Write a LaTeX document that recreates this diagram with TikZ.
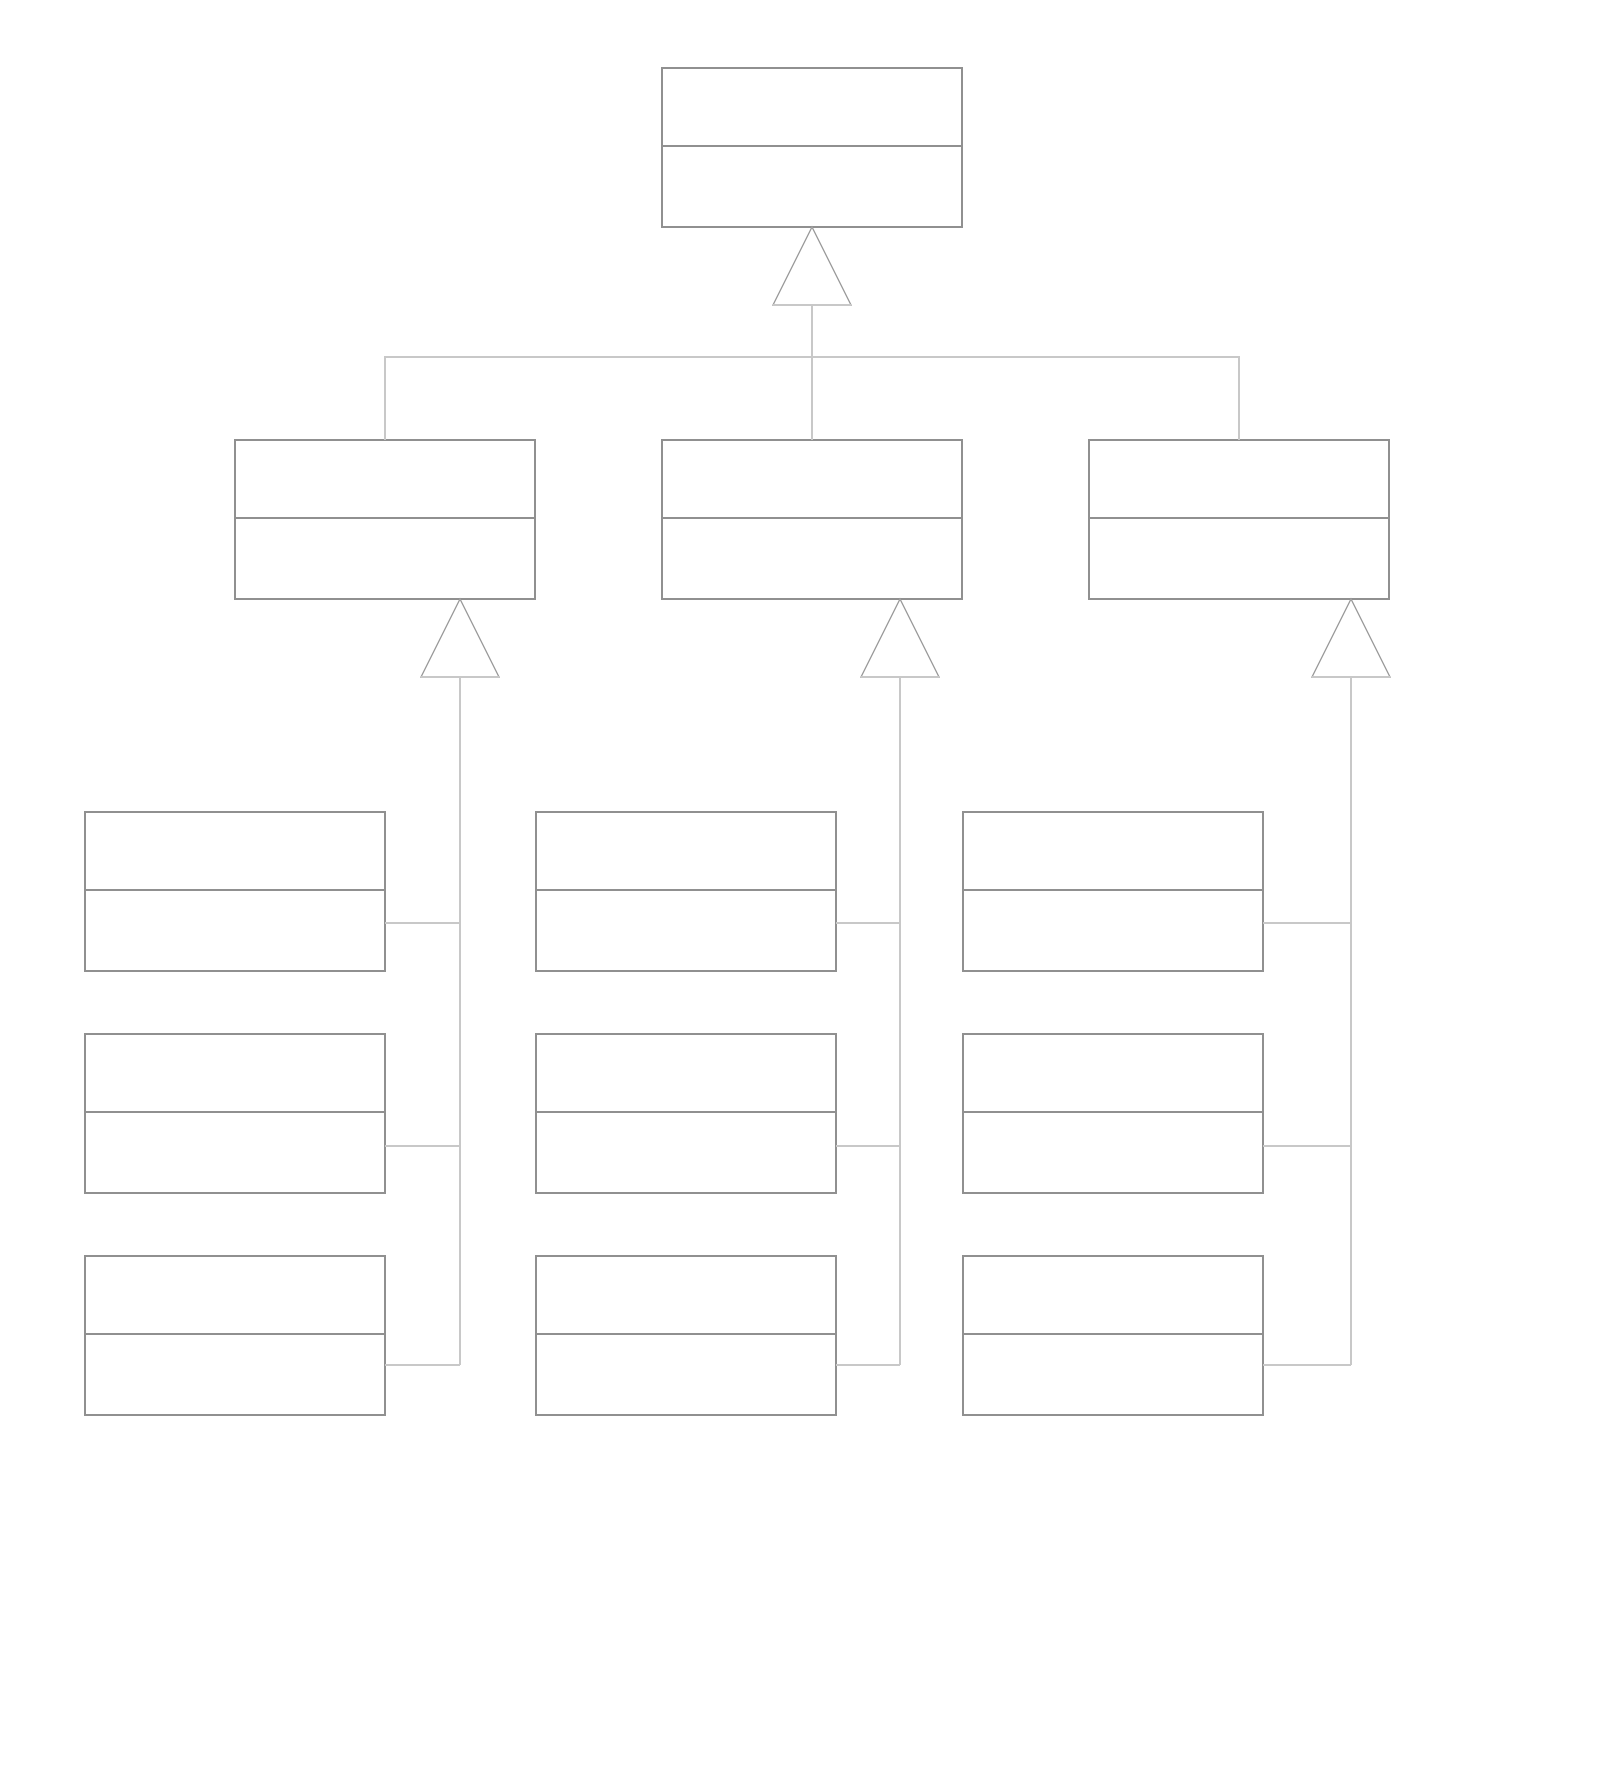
\documentclass[tikz,border=0pt]{standalone}
\usetikzlibrary{calc}
\definecolor{boxc}{HTML}{909090}
\definecolor{linec}{HTML}{C8C8C8}
\definecolor{tric}{HTML}{A0A0A0}
\begin{document}
\begin{tikzpicture}[x=1pt,y=-1pt,
  cls/.style={draw=boxc,line width=1.3pt,fill=white,rectangle,minimum width=300pt,minimum height=159pt,anchor=north west,inner sep=0pt,outer sep=0pt},
  conn/.style={draw=linec,line width=1.5pt},
  tri/.style={draw=tric,line width=1.2pt,fill=white,line join=miter}]
\fill[white] (0,0) rectangle (1603,1766);
\useasboundingbox (0,0) rectangle (1603,1766);
% classes
\node[cls] (top) at (662,68) {};
\node[cls] (m1) at (235,440) {};
\node[cls] (m2) at (662,440) {};
\node[cls] (m3) at (1089,440) {};
\foreach \c/\x in {1/85,2/536,3/963}{
  \foreach \r/\y in {1/812,2/1034,3/1256}{
    \node[cls] (b\c\r) at (\x,\y) {};
  }
}
% dividers
\foreach \n in {top,m1,m2,m3,b11,b12,b13,b21,b22,b23,b31,b32,b33}{
  \draw[boxc,line width=1.3pt] ($(\n.north west)+(-1,78)$) -- ($(\n.north east)+(1,78)$);
}
% triangle coordinates
\coordinate (ta) at (top.south);
\coordinate (tb) at ($(top.south)+(0,78)$);
\coordinate (t1a) at ($(m1.south west)+(225,0)$);
\coordinate (t1b) at ($(t1a)+(0,78)$);
\coordinate (t2a) at ($(m2.south west)+(238,0)$);
\coordinate (t2b) at ($(t2a)+(0,78)$);
\coordinate (t3a) at ($(m3.south west)+(262,0)$);
\coordinate (t3b) at ($(t3a)+(0,78)$);
% bus from top
\coordinate (busL) at (m1.north |- 0,357);
\coordinate (busR) at (m3.north |- 0,357);
\draw[conn] (tb) -- (m2.north);
\draw[conn] (m1.north) -- (busL) -- (busR) -- (m3.north);
% verticals for children
\foreach \c/\t in {1/t1b,2/t2b,3/t3b}{
  \coordinate (v\c) at (\t |- 0,1365);
  \draw[conn] (\t) -- (v\c);
  \draw[conn] ($(b\c1.north east)+(0,111)$) -- (\t |- 0,923);
  \draw[conn] ($(b\c2.north east)+(0,112)$) -- (\t |- 0,1146);
  \draw[conn] ($(b\c3.north east)+(0,109)$) -- (v\c);
}
% triangles
\foreach \a/\b in {ta/tb,t1a/t1b,t2a/t2b,t3a/t3b}{
  \draw[tri] (\a) -- ($(\b)+(39,0)$) -- ($(\b)+(-39,0)$) -- cycle;
  \draw[conn] ($(\b)+(-39,0)$) -- ($(\b)+(39,0)$);
}
\end{tikzpicture}
\end{document}
